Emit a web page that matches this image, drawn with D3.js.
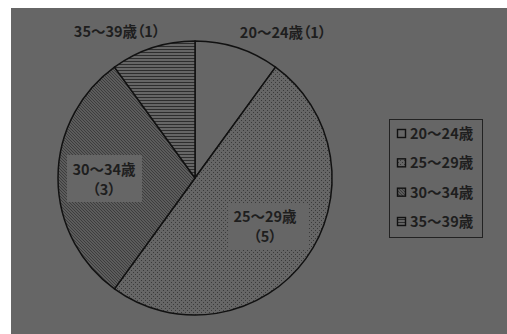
<!DOCTYPE html>
<html><head><meta charset="utf-8">
<script src="https://cdn.jsdelivr.net/npm/d3@7"></script>
<style>html,body{margin:0;padding:0;background:#fff;}svg{display:block;}text{font-feature-settings:"palt";}</style>
</head><body>
<script>
const categories = ["20〜24歳", "25〜29歳", "30〜34歳", "35〜39歳"];
const values = [1, 5, 3, 1];
const outsideLabels = ["20〜24歳（1）", null, null, "35〜39歳（1）"];
const insideLabels = [null, ["25〜29歳", "（5）"], ["30〜34歳", "（3）"], null];

const W = 507, H = 334;
const bg = "#666666", ink = "#1e1e1e";
const svg = d3.select("body").append("svg").attr("width", W).attr("height", H);
svg.append("rect").attr("x", 11).attr("y", 8).attr("width", W - 11).attr("height", H - 8).attr("fill", bg);

const defs = svg.append("defs");
// dots
const pd = defs.append("pattern").attr("id", "p1").attr("patternUnits", "userSpaceOnUse").attr("width", 4).attr("height", 4);
pd.append("rect").attr("width", 4).attr("height", 4).attr("fill", bg);
pd.append("rect").attr("x", 0).attr("y", 0).attr("width", 1).attr("height", 1).attr("fill", "#3a3a3a");
pd.append("rect").attr("x", 2).attr("y", 2).attr("width", 1).attr("height", 1).attr("fill", "#3a3a3a");
// crosshatch
const ph = defs.append("pattern").attr("id", "p2").attr("patternUnits", "userSpaceOnUse").attr("width", 3).attr("height", 3);
ph.append("rect").attr("width", 3).attr("height", 3).attr("fill", "#5c5c5c");
ph.append("path").attr("d", "M0,0L3,3M-1,2L1,4M2,-1L4,1").attr("stroke", "#3a3a3a").attr("stroke-width", 0.9);
// horizontal lines
const pl = defs.append("pattern").attr("id", "p3").attr("patternUnits", "userSpaceOnUse").attr("width", 4).attr("height", 3);
pl.append("rect").attr("width", 4).attr("height", 3).attr("fill", bg);
pl.append("rect").attr("y", 0).attr("width", 4).attr("height", 1).attr("fill", "#2e2e2e");
const fills = [bg, "url(#p1)", "url(#p2)", "url(#p3)"];

const cx = 195, cy = 178, r = 137;
const pie = d3.pie().sort(null).value(d => d)(values);
const arc = d3.arc().innerRadius(0).outerRadius(r);
const g = svg.append("g").attr("transform", `translate(${cx},${cy})`);
g.selectAll("path").data(pie).join("path")
  .attr("d", arc).attr("fill", (d, i) => fills[i])
  .attr("stroke", "#111").attr("stroke-width", 1.5).attr("stroke-linejoin", "round");

const font = "'Noto Sans CJK JP', sans-serif";
const fs = 14.5;
// outside labels
const outPos = [[283, 38], null, null, [117, 37]];
outsideLabels.forEach((t, i) => {
  if (!t) return;
  svg.append("text").attr("x", outPos[i][0]).attr("y", outPos[i][1]).attr("text-anchor", "middle")
    .attr("font-family", font).attr("font-size", fs).attr("font-weight", "bold").attr("fill", ink).text(t);
});
// inside labels
const inPos = [null, [265, 222, 229, 204, 80, 46], [104, 175, 67, 155, 75, 47], null];
insideLabels.forEach((t, i) => {
  if (!t) return;
  const p = inPos[i];
  svg.append("rect").attr("x", p[2]).attr("y", p[3]).attr("width", p[4]).attr("height", p[5]).attr("fill", bg);
  t.forEach((s, k) => {
    svg.append("text").attr("x", p[0]).attr("y", p[1] + k * 20).attr("text-anchor", "middle")
      .attr("font-family", font).attr("font-size", fs).attr("font-weight", "bold").attr("fill", ink).text(s);
  });
});

// legend
svg.append("rect").attr("x", 389.5).attr("y", 119.5).attr("width", 93).attr("height", 118)
  .attr("fill", bg).attr("stroke", "#222").attr("stroke-width", 1);
const ly = d3.scalePoint().domain(categories).range([134, 222]);
categories.forEach((c, i) => {
  const y = ly(c);
  svg.append("rect").attr("x", 397.5).attr("y", y - 4.5).attr("width", 8).attr("height", 8)
    .attr("fill", fills[i]).attr("stroke", "#111").attr("stroke-width", 1.4);
  svg.append("text").attr("x", 410).attr("y", y + 5).attr("font-family", font).attr("font-size", fs)
    .attr("font-weight", "bold").attr("fill", ink).text(c);
});
</script>
</body></html>
